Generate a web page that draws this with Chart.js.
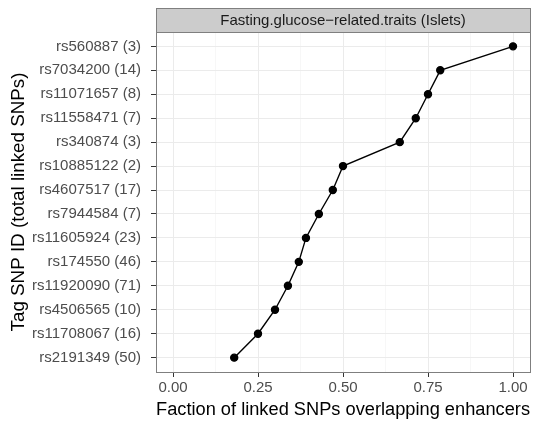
<!DOCTYPE html>
<html>
<head>
<meta charset="utf-8">
<script src="https://cdn.jsdelivr.net/npm/chart.js@4"></script>
<style>
  html, body { margin: 0; padding: 0; background: #fff; }
  #wrap { width: 535px; height: 423px; }
</style>
</head>
<body>
<div id="wrap"><canvas id="grafico" width="535" height="423"></canvas></div>
<script>
// SNP labels, top to bottom
const snps = [
    'rs560887 (3)', 'rs7034200 (14)', 'rs11071657 (8)', 'rs11558471 (7)',
    'rs340874 (3)', 'rs10885122 (2)', 'rs4607517 (17)', 'rs7944584 (7)',
    'rs11605924 (23)', 'rs174550 (46)', 'rs11920090 (71)', 'rs4506565 (10)',
    'rs11708067 (16)', 'rs2191349 (50)'
];
const fractions = [1.00, 0.786, 0.75, 0.714, 0.667, 0.50, 0.47, 0.429, 0.391, 0.37, 0.338, 0.30, 0.25, 0.18];
const xTicks = [0, 0.125, 0.25, 0.375, 0.5, 0.625, 0.75, 0.875, 1];
const panelTitle = 'Fasting.glucose\u2212related.traits (Islets)';

const fuente = 'Liberation Sans, Arial, Helvetica, sans-serif';
const esMayor = v => Math.abs(v * 4 - Math.round(v * 4)) < 1e-6;

// panel border + facet strip
const panelPlugin = {
    id: 'panel',
    afterDraw(chart) {
        const { ctx, chartArea: a } = chart;
        ctx.save();
        ctx.strokeStyle = '#7f7f7f';
        ctx.lineWidth = 1;
        ctx.strokeRect(a.left + 0.5, a.top + 0.5, a.right - a.left, a.bottom - a.top);
        // strip
        const top = 8, h = a.top - top;
        ctx.fillStyle = '#cccccc';
        ctx.fillRect(a.left, top, a.right - a.left, h);
        ctx.strokeRect(a.left + 0.5, top + 0.5, a.right - a.left, h);
        ctx.fillStyle = '#1a1a1a';
        ctx.font = '15px ' + fuente;
        ctx.textAlign = 'center';
        ctx.textBaseline = 'middle';
        ctx.fillText(panelTitle, (a.left + a.right) / 2, top + h / 2 + 1);
        ctx.restore();
    }
};

new Chart(document.querySelector('#grafico'), {
    type: 'scatter',
    data: {
        datasets: [{
            data: fractions.map((f, i) => ({ x: f, y: i })),
            showLine: true,
            borderColor: '#000',
            borderWidth: 1.4,
            backgroundColor: '#000',
            pointRadius: 3.5,
            pointHoverRadius: 3.5
        }]
    },
    options: {
        responsive: false,
        animation: false,
        layout: { padding: { top: 32, right: 5, left: 0, bottom: 0 } },
        plugins: {
            legend: { display: false },
            tooltip: { enabled: false }
        },
        scales: {
            x: {
                type: 'linear',
                min: -0.05,
                max: 1.05,
                afterBuildTicks: s => { s.ticks = xTicks.map(v => ({ value: v })); },
                afterFit: s => { s.height = 51; s.paddingLeft = 0; s.paddingRight = 0; },
                border: { display: false },
                grid: {
                    color: c => (c.tick && esMayor(c.tick.value)) ? '#ebebeb' : '#f7f7f7',
                    tickColor: c => (c.tick && esMayor(c.tick.value)) ? '#333333' : 'rgba(0,0,0,0)',
                    tickLength: 5,
                    lineWidth: 1
                },
                ticks: {
                    autoSkip: false,
                    maxRotation: 0,
                    padding: 2,
                    color: '#4d4d4d',
                    font: { family: fuente, size: 15 },
                    callback: v => esMayor(v) ? v.toFixed(2) : ''
                },
                title: {
                    display: true,
                    text: 'Faction of linked SNPs overlapping enhancers',
                    color: '#000',
                    font: { family: fuente, size: 18.8 },
                    padding: { top: 0, bottom: 2 }
                }
            },
            y: {
                type: 'linear',
                reverse: true,
                min: -0.6,
                max: snps.length - 0.4,
                afterBuildTicks: s => { s.ticks = snps.map((_, i) => ({ value: i })); },
                afterFit: s => { s.width = 156; s.paddingTop = 0; s.paddingBottom = 0; },
                border: { display: false },
                grid: {
                    color: '#ebebeb',
                    tickColor: '#333333',
                    tickLength: 5,
                    lineWidth: 1
                },
                ticks: {
                    autoSkip: false,
                    padding: 10,
                    color: '#4d4d4d',
                    font: { family: fuente, size: 15 },
                    callback: v => snps[v]
                },
                title: {
                    display: true,
                    text: 'Tag SNP ID (total linked SNPs)',
                    color: '#000',
                    font: { family: fuente, size: 18.8 },
                    padding: { top: 8, bottom: 0 }
                }
            }
        }
    },
    plugins: [panelPlugin]
});
</script>
</body>
</html>
